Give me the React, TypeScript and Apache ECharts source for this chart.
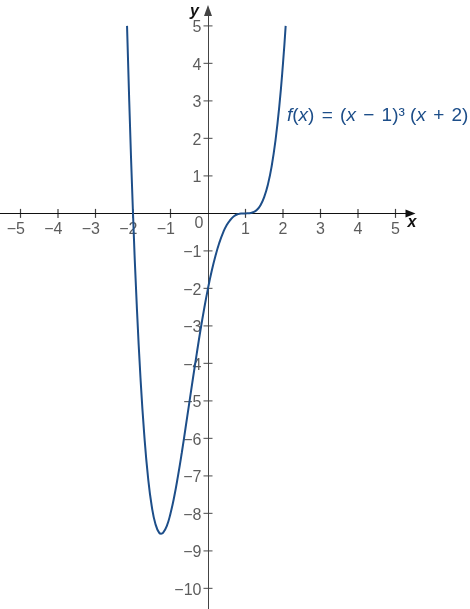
import React, { useEffect, useRef } from "react";
import * as echarts from "echarts";

// values
const curveX = [
  -2.159, -2.1, -2.0, -1.9, -1.8, -1.7, -1.6, -1.5, -1.4, -1.3, -1.25, -1.2,
  -1.1, -1.0, -0.9, -0.8, -0.7, -0.6, -0.5, -0.4, -0.3, -0.2, -0.1, 0, 0.1,
  0.2, 0.3, 0.4, 0.5, 0.6, 0.7, 0.8, 0.9, 1.0, 1.1, 1.2, 1.3, 1.4, 1.5, 1.6,
  1.7, 1.8, 1.9, 2.0, 2.071,
];
const curveY = [
  5.0, 2.98, 0, -2.44, -4.39, -5.9, -7.03, -7.81, -8.29, -8.52, -8.54, -8.52,
  -8.34, -8.0, -7.55, -7.0, -6.39, -5.73, -5.06, -4.39, -3.74, -3.11, -2.53,
  -2.0, -1.53, -1.13, -0.79, -0.52, -0.31, -0.17, -0.07, -0.02, -0.003, 0,
  0.003, 0.03, 0.09, 0.22, 0.44, 0.78, 1.27, 1.95, 2.84, 4.0, 5.0,
];
const xTicks = [-5, -4, -3, -2, -1, 1, 2, 3, 4, 5];
const yTicks = [-10, -9, -8, -7, -6, -5, -4, -3, -2, -1, 1, 2, 3, 4, 5];
const funcLabel =
  "{i|f}({i|x}) {o|=} ({i|x} {o|−} 1)³ ({i|x} {o|+} 2)";

const FONT = "'Liberation Sans', Arial, sans-serif";
const CURVE = "#1d4e89";
const TEXT = "#333";

const fmt = (v: number) => (v < 0 ? "−" + Math.abs(v) : String(v));

const App: React.FC = () => {
  const chartRef = useRef<HTMLDivElement>(null);

  useEffect(() => {
    if (!chartRef.current) return;
    const chart = echarts.init(chartRef.current, null, { renderer: "svg" });

    const tickLabel = {
      show: true,
      position: "inside",
      fontFamily: FONT,
      fontSize: 16,
      color: TEXT,
    };

    const option = {
      animation: false,
      grid: {
        left: 0.25,
        top: 10.5,
        width: 410.25,
        height: 600.4,
        containLabel: false,
        outerBoundsMode: "none",
      },
      xAxis: {
        type: "value",
        min: -5.54,
        max: 5.4,
        splitLine: { show: false },
        axisTick: { show: false },
        axisLabel: { show: false },
        axisLine: {
          onZero: true,
          symbol: ["none", "triangle"],
          symbolSize: [8, 10],
          lineStyle: { color: "#111", width: 1 },
        },
        name: "x",
        nameLocation: "end",
        nameGap: -3,
        nameTextStyle: {
          fontFamily: FONT,
          fontSize: 16,
          fontWeight: "bold",
          fontStyle: "italic",
          color: "#111",
          align: "left",
          verticalAlign: "top",
        },
      },
      yAxis: {
        type: "value",
        min: -10.6,
        max: 5.41,
        splitLine: { show: false },
        axisTick: { show: false },
        axisLabel: { show: false },
        axisLine: {
          onZero: true,
          symbol: ["none", "triangle"],
          symbolSize: [8, 11],
          lineStyle: { color: "#444", width: 1 },
        },
        name: "y",
        nameLocation: "end",
        nameGap: 0,
        nameTextStyle: {
          fontFamily: FONT,
          fontSize: 16,
          fontWeight: "bold",
          fontStyle: "italic",
          color: "#111",
          align: "right",
          verticalAlign: "middle",
          padding: [0, 9, 2, 0],
        },
      },
      series: [
        {
          // x ticks + labels
          type: "scatter",
          silent: true,
          symbol: "rect",
          symbolSize: [1.2, 9],
          itemStyle: { color: "#111" },
          data: xTicks.map((v) => [v, 0]),
          label: {
            ...tickLabel,
            formatter: (p: any) => fmt(p.value[0]),
            align: "right",
            verticalAlign: "middle",
            offset: [4.5, 15.5],
          },
          z: 1,
        },
        {
          // y ticks + labels
          type: "scatter",
          silent: true,
          symbol: "rect",
          symbolSize: [9, 1.2],
          itemStyle: { color: "#444" },
          data: yTicks.map((v) => [0, v]),
          label: {
            ...tickLabel,
            formatter: (p: any) => fmt(p.value[1]),
            align: "right",
            verticalAlign: "middle",
            offset: [-6.5, 1],
          },
          z: 1,
        },
        {
          type: "scatter",
          silent: true,
          symbolSize: 0,
          data: [[0, 0]],
          label: {
            ...tickLabel,
            formatter: "0",
            align: "center",
            verticalAlign: "middle",
            offset: [-9, 9],
          },
        },
        {
          type: "line",
          data: curveX.map((x, i) => [x, curveY[i]]),
          showSymbol: false,
          smooth: true,
          lineStyle: { color: CURVE, width: 2 },
          itemStyle: { color: CURVE },
          z: 3,
        },
      ],
      graphic: [
        {
          type: "text",
          left: 287,
          top: 105,
          style: {
            text: funcLabel,
            fontFamily: FONT,
            fontSize: 19,
            fill: CURVE,
            rich: {
              i: { fontFamily: FONT, fontSize: 19, fontStyle: "italic", fill: CURVE },
              o: { fontFamily: FONT, fontSize: 19, fill: CURVE, padding: [0, 2, 0, 2] },
            },
          },
        },
      ],
    };

    chart.setOption(option);
    return () => chart.dispose();
  }, []);

  return (
    <div
      ref={chartRef}
      style={{ position: "fixed", left: 0, top: 0, width: 470, height: 609 }}
    />
  );
};

export default App;
